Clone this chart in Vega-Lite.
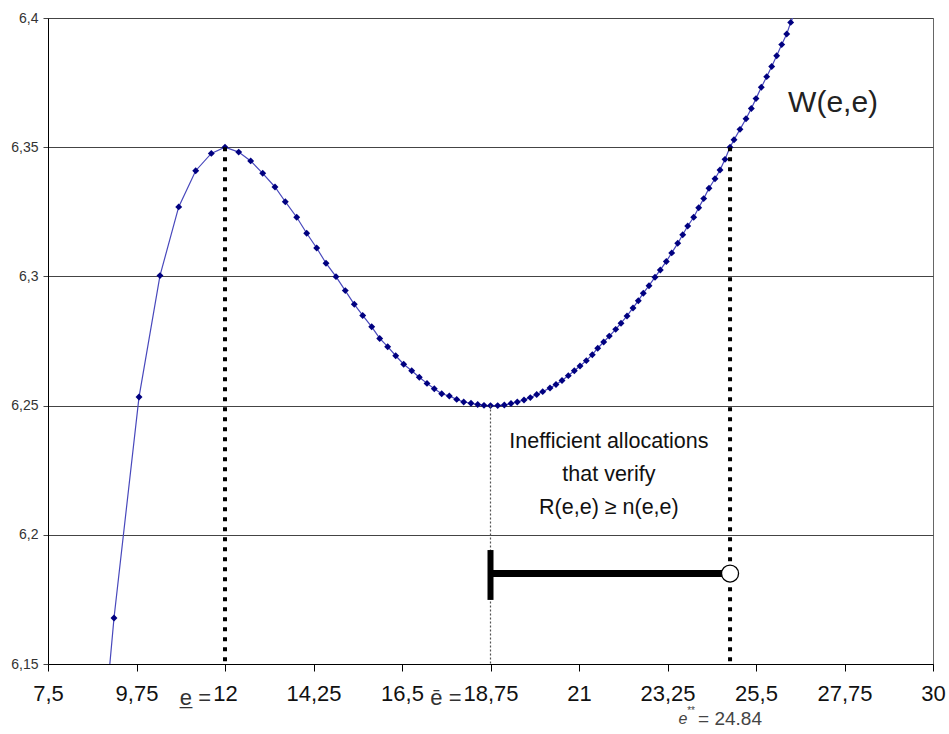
{
  "$schema": "https://vega.github.io/schema/vega-lite/v6.json",
  "autosize": "none",
  "width": 885,
  "height": 646,
  "padding": {"left": 48, "top": 18, "right": 16, "bottom": 70},
  "background": "white",
  "config": {
    "font": "Liberation Sans",
    "view": {"stroke": "#666666", "strokeWidth": 1}
  },
  "datasets": {
    "curve": [
      {"e": 8.924, "w": 6.125}, {"e": 9.178, "w": 6.1678}, {"e": 9.814, "w": 6.2533}, {"e": 10.347, "w": 6.3003},
      {"e": 10.823, "w": 6.3269}, {"e": 11.255, "w": 6.3409}, {"e": 11.652, "w": 6.3476}, {"e": 12.0, "w": 6.35},
      {"e": 12.348, "w": 6.3481}, {"e": 12.653, "w": 6.3447}, {"e": 12.959, "w": 6.3399}, {"e": 13.271, "w": 6.3346},
      {"e": 13.533, "w": 6.3289}, {"e": 13.823, "w": 6.3229}, {"e": 14.077, "w": 6.3167}, {"e": 14.331, "w": 6.311},
      {"e": 14.568, "w": 6.3051}, {"e": 14.822, "w": 6.2999}, {"e": 15.058, "w": 6.2945}, {"e": 15.287, "w": 6.2892},
      {"e": 15.501, "w": 6.2849}, {"e": 15.73, "w": 6.2805}, {"e": 15.933, "w": 6.276}, {"e": 16.136, "w": 6.2728},
      {"e": 16.34, "w": 6.2693}, {"e": 16.543, "w": 6.266}, {"e": 16.747, "w": 6.2635}, {"e": 16.94, "w": 6.261},
      {"e": 17.136, "w": 6.2586}, {"e": 17.321, "w": 6.2565}, {"e": 17.509, "w": 6.2546}, {"e": 17.703, "w": 6.2537},
      {"e": 17.891, "w": 6.2524}, {"e": 18.069, "w": 6.2514}, {"e": 18.254, "w": 6.2509}, {"e": 18.425, "w": 6.2504},
      {"e": 18.585, "w": 6.2501}, {"e": 18.75, "w": 6.25}, {"e": 18.933, "w": 6.25}, {"e": 19.101, "w": 6.2502},
      {"e": 19.271, "w": 6.2508}, {"e": 19.431, "w": 6.2514}, {"e": 19.602, "w": 6.2522}, {"e": 19.762, "w": 6.2531},
      {"e": 19.925, "w": 6.2543}, {"e": 20.077, "w": 6.2554}, {"e": 20.263, "w": 6.2568}, {"e": 20.415, "w": 6.2582},
      {"e": 20.568, "w": 6.2597}, {"e": 20.728, "w": 6.2616}, {"e": 20.881, "w": 6.2635}, {"e": 21.026, "w": 6.2653},
      {"e": 21.186, "w": 6.2674}, {"e": 21.338, "w": 6.2697}, {"e": 21.476, "w": 6.2722}, {"e": 21.628, "w": 6.2746},
      {"e": 21.77, "w": 6.2769}, {"e": 21.933, "w": 6.2795}, {"e": 22.068, "w": 6.2819}, {"e": 22.221, "w": 6.2847},
      {"e": 22.373, "w": 6.2878}, {"e": 22.508, "w": 6.2906}, {"e": 22.635, "w": 6.2935}, {"e": 22.78, "w": 6.2964},
      {"e": 22.932, "w": 6.2997}, {"e": 23.067, "w": 6.3025}, {"e": 23.22, "w": 6.3058}, {"e": 23.357, "w": 6.3091},
      {"e": 23.51, "w": 6.3128}, {"e": 23.637, "w": 6.3161}, {"e": 23.764, "w": 6.3195}, {"e": 23.916, "w": 6.3229},
      {"e": 24.043, "w": 6.3266}, {"e": 24.171, "w": 6.3301}, {"e": 24.305, "w": 6.3341}, {"e": 24.458, "w": 6.3378},
      {"e": 24.585, "w": 6.3412}, {"e": 24.712, "w": 6.3453}, {"e": 24.84, "w": 6.35}, {"e": 24.941, "w": 6.3529},
      {"e": 25.093, "w": 6.3569}, {"e": 25.246, "w": 6.361}, {"e": 25.381, "w": 6.365}, {"e": 25.5, "w": 6.3688},
      {"e": 25.635, "w": 6.3732}, {"e": 25.772, "w": 6.3773}, {"e": 25.899, "w": 6.3812}, {"e": 26.026, "w": 6.3854},
      {"e": 26.154, "w": 6.3897}, {"e": 26.281, "w": 6.3938}, {"e": 26.382, "w": 6.3983}, {"e": 26.543, "w": 6.4039}
    ],
    "dashed": [
      {"e": 12, "top": 6.35, "bottom": 6.15},
      {"e": 24.84, "top": 6.35, "bottom": 6.15}
    ],
    "dotted": [{"e": 18.75, "top": 6.25, "bottom": 6.15}],
    "bar": [{"from": 18.75, "to": 24.84, "level": 6.185}],
    "cap": [{"e": 18.75, "low": 6.1748, "high": 6.1941}],
    "endpoint": [{"e": 24.84, "level": 6.185}],
    "curvelabel": [{"e": 27.46, "w": 6.367, "label": "W(e,e)"}],
    "note": [{"e": 21.76, "w": 6.236, "label": ["Inefficient allocations", "that verify", "R(e,e) ≥ n(e,e)"]}],
    "lowlabel": [{"e": 12, "w": 6.15, "label": "e̲ ="}],
    "highlabel": [{"e": 18.75, "w": 6.15, "label": "ē ="}],
    "estar": [{"e": 24.84, "w": 6.15}]
  },
  "layer": [
    {
      "data": {"name": "curve"},
      "mark": {"type": "line", "color": "#4848bc", "strokeWidth": 1.2, "clip": true},
      "encoding": {
        "x": {"field": "e", "type": "quantitative", "scale": {"domain": [7.5, 30], "nice": false, "zero": false},
          "axis": {
            "title": null,
            "values": [7.5, 9.75, 12, 14.25, 16.5, 18.75, 21, 23.25, 25.5, 27.75, 30],
            "labelExpr": "replace(format(datum.value, '.2~f'), '.', ',')",
            "labelFontSize": 22,
            "labelColor": "#111111",
            "labelPadding": 12,
            "labelFlush": false,
            "labelOverlap": false,
            "labelBound": false,
            "tickSize": 7,
            "tickColor": "#000000",
            "domainColor": "#000000",
            "grid": false
          }
        },
        "y": {"field": "w", "type": "quantitative", "scale": {"domain": [6.15, 6.4], "nice": false, "zero": false},
          "axis": {
            "title": null,
            "values": [6.15, 6.2, 6.25, 6.3, 6.35, 6.4],
            "labelExpr": "replace(format(datum.value, '.2~f'), '.', ',')",
            "labelFontSize": 14,
            "labelColor": "#333333",
            "labelPadding": 5,
            "tickSize": 5,
            "tickColor": "#444444",
            "domainColor": "#000000",
            "grid": true,
            "gridColor": "#444444",
            "gridWidth": 1
          }
        }
      }
    },
    {
      "data": {"name": "curve"},
      "mark": {"type": "point", "shape": "diamond", "filled": true, "color": "#000080", "size": 48, "opacity": 1, "clip": true},
      "encoding": {
        "x": {"field": "e", "type": "quantitative"},
        "y": {"field": "w", "type": "quantitative"}
      }
    },
    {
      "data": {"name": "dashed"},
      "mark": {"type": "rule", "color": "#000000", "strokeWidth": 4, "strokeDash": [4, 6]},
      "encoding": {
        "x": {"field": "e", "type": "quantitative"},
        "y": {"field": "top", "type": "quantitative"},
        "y2": {"field": "bottom"}
      }
    },
    {
      "data": {"name": "dotted"},
      "mark": {"type": "rule", "color": "#555555", "strokeWidth": 1.2, "strokeDash": [2, 2]},
      "encoding": {
        "x": {"field": "e", "type": "quantitative"},
        "y": {"field": "top", "type": "quantitative"},
        "y2": {"field": "bottom"}
      }
    },
    {
      "data": {"name": "bar"},
      "mark": {"type": "rule", "color": "#000000", "strokeWidth": 7},
      "encoding": {
        "x": {"field": "from", "type": "quantitative"},
        "x2": {"field": "to"},
        "y": {"field": "level", "type": "quantitative"}
      }
    },
    {
      "data": {"name": "cap"},
      "mark": {"type": "rule", "color": "#000000", "strokeWidth": 6},
      "encoding": {
        "x": {"field": "e", "type": "quantitative"},
        "y": {"field": "low", "type": "quantitative"},
        "y2": {"field": "high"}
      }
    },
    {
      "data": {"name": "endpoint"},
      "mark": {"type": "point", "shape": "circle", "filled": true, "fill": "#ffffff", "stroke": "#000000", "strokeWidth": 1.3, "size": 290, "opacity": 1},
      "encoding": {
        "x": {"field": "e", "type": "quantitative"},
        "y": {"field": "level", "type": "quantitative"}
      }
    },
    {
      "data": {"name": "curvelabel"},
      "mark": {"type": "text", "fontSize": 30, "color": "#222222", "align": "center", "baseline": "middle"},
      "encoding": {
        "x": {"field": "e", "type": "quantitative"},
        "y": {"field": "w", "type": "quantitative"},
        "text": {"field": "label"}
      }
    },
    {
      "data": {"name": "note"},
      "mark": {"type": "text", "fontSize": 21.5, "lineHeight": 33, "color": "#111111", "align": "center", "baseline": "middle"},
      "encoding": {
        "x": {"field": "e", "type": "quantitative"},
        "y": {"field": "w", "type": "quantitative"},
        "text": {"field": "label"}
      }
    },
    {
      "data": {"name": "lowlabel"},
      "mark": {"type": "text", "fontSize": 22, "color": "#333333", "align": "right", "baseline": "middle", "dy": 34, "dx": -14},
      "encoding": {
        "x": {"field": "e", "type": "quantitative"},
        "y": {"field": "w", "type": "quantitative"},
        "text": {"field": "label"}
      }
    },
    {
      "data": {"name": "highlabel"},
      "mark": {"type": "text", "fontSize": 22, "color": "#333333", "align": "right", "baseline": "middle", "dy": 34, "dx": -29},
      "encoding": {
        "x": {"field": "e", "type": "quantitative"},
        "y": {"field": "w", "type": "quantitative"},
        "text": {"field": "label"}
      }
    },
    {
      "data": {"name": "estar"},
      "mark": {"type": "text", "fontSize": 16, "fontStyle": "italic", "color": "#444444", "align": "center", "baseline": "middle", "dy": 55, "dx": -47, "text": "e"},
      "encoding": {
        "x": {"field": "e", "type": "quantitative"},
        "y": {"field": "w", "type": "quantitative"}
      }
    },
    {
      "data": {"name": "estar"},
      "mark": {"type": "text", "fontSize": 10, "color": "#444444", "align": "center", "baseline": "middle", "dy": 47, "dx": -39, "text": "**"},
      "encoding": {
        "x": {"field": "e", "type": "quantitative"},
        "y": {"field": "w", "type": "quantitative"}
      }
    },
    {
      "data": {"name": "estar"},
      "mark": {"type": "text", "fontSize": 19, "color": "#444444", "align": "left", "baseline": "middle", "dy": 55, "dx": -32, "text": "= 24.84"},
      "encoding": {
        "x": {"field": "e", "type": "quantitative"},
        "y": {"field": "w", "type": "quantitative"}
      }
    }
  ]
}
